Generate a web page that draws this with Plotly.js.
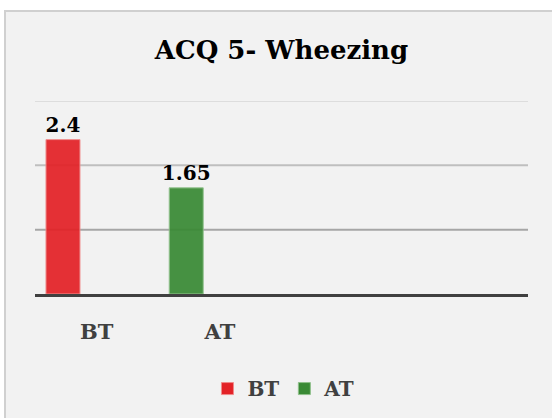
<!DOCTYPE html>
<html>
<head>
<meta charset="utf-8">
<script src="https://cdn.plot.ly/plotly-3.0.1.min.js"></script>
<style>
  html, body { margin: 0; padding: 0; background: #ffffff; overflow: hidden; }
  #frame { position: absolute; left: 4px; top: 10px; width: 548px; height: 408px;
           border-left: 2px solid #d0d0d0; border-top: 2px solid #d0d0d0; background: #f2f2f2; }
  #chart { width: 548px; height: 408px; }
</style>
</head>
<body>
<div id="frame"><div id="chart"></div></div>
<script>
const categories = ["BT", "AT"];
const seriesNames = ["BT", "AT"];
const btValues = [2.4];
const atValues = [1.65];
const gridValues = [1, 2, 3];

const serif = "DejaVu Serif, Liberation Serif, serif";

const traces = [
  {
    type: "bar", name: seriesNames[0], x: [categories[0]], y: btValues,
    width: 0.276, offset: -0.411,
    marker: { color: "#e32227", opacity: 0.93, line: { color: "#f08a8a", width: 1 } },
    text: btValues.map(String), textposition: "outside", cliponaxis: false, constraintext: "none",
    textfont: { family: serif, size: 20, color: "#000000", weight: "bold" },
    hoverinfo: "none"
  },
  {
    type: "bar", name: seriesNames[1], x: [categories[1]], y: atValues,
    width: 0.276, offset: -0.411,
    marker: { color: "#3a8a35", opacity: 0.93, line: { color: "#8fc08a", width: 1 } },
    text: atValues.map(String), textposition: "outside", cliponaxis: false, constraintext: "none",
    textfont: { family: serif, size: 20, color: "#000000", weight: "bold" },
    hoverinfo: "none"
  }
];

const gridColors = ["#a6a6a6", "#bfbfbf", "#dddddd"];
const shapes = gridValues.map((v, i) => ({
  type: "line", xref: "paper", yref: "y", x0: 0, x1: 1, y0: v, y1: v,
  line: { color: gridColors[i], width: 2 }, layer: "below"
}));

const layout = {
  width: 548, height: 408,
  margin: { l: 29, r: 26, t: 89, b: 126 },
  paper_bgcolor: "#f2f2f2", plot_bgcolor: "#f2f2f2",
  title: {
    text: "ACQ 5- Wheezing",
    font: { family: serif, size: 26, color: "#000000", weight: "bold" },
    x: 0.5, xref: "paper", xanchor: "center",
    y: 0.907, yref: "container", yanchor: "middle"
  },
  showlegend: true,
  legend: {
    orientation: "h", x: 0.505, xanchor: "center", xref: "paper",
    y: -0.49, yanchor: "middle",
    font: { family: serif, size: 20, color: "#404040", weight: "bold" },
    bgcolor: "rgba(0,0,0,0)", itemclick: false, itemdoubleclick: false,
    itemwidth: 30, tracegroupgap: 0
  },
  xaxis: {
    type: "category", categoryorder: "array", categoryarray: categories,
    range: [-0.5, 3.5], showgrid: false, zeroline: false,
    showline: true, linecolor: "#404040", linewidth: 3,
    ticks: "outside", ticklen: 17, tickcolor: "rgba(0,0,0,0)",
    tickfont: { family: serif, size: 21, color: "#404040", weight: "bold" },
    fixedrange: true
  },
  yaxis: {
    range: [0, 3], showgrid: false, zeroline: false, showticklabels: false,
    showline: false, ticks: "", fixedrange: true
  },
  shapes: shapes,
  bargap: 0
};

Plotly.newPlot("chart", traces, layout, { staticPlot: true, displayModeBar: false });
</script>
</body>
</html>
